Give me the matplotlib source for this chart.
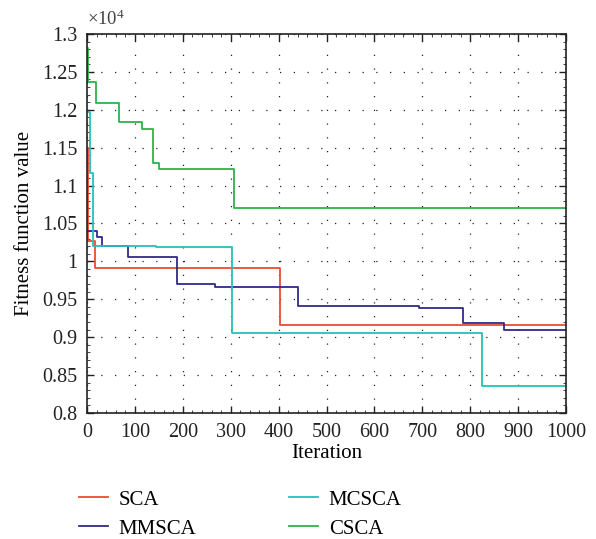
import matplotlib
matplotlib.use("Agg")
import matplotlib.pyplot as plt
from matplotlib.ticker import FuncFormatter, MultipleLocator

plt.rcParams['font.family'] = ['Liberation Serif', 'DejaVu Serif']
plt.rcParams['mathtext.fontset'] = 'custom'
plt.rcParams['mathtext.rm'] = 'Liberation Serif'
plt.rcParams['mathtext.it'] = 'Liberation Serif:italic'

# Data (iteration at which value changes, fitness value)
sca_iter = [0, 2, 16, 403, 1000]
sca_val = [11500, 10270, 9917, 9157, 9157]

mmsca_iter = [0, 21, 31, 86, 188, 267, 441, 694, 784, 870, 1000]
mmsca_val = [10405, 10320, 10203, 10062, 9698, 9667, 9412, 9385, 9184, 9095, 9095]

mcsca_iter = [0, 6, 13, 145, 303, 825, 1000]
mcsca_val = [11975, 11170, 10207, 10193, 9060, 8356, 8356]

csca_iter = [0, 2, 19, 66, 115, 138, 151, 307, 1000]
csca_val = [12815, 12370, 12086, 11835, 11747, 11302, 11215, 10700, 10700]

names = ['SCA', 'MMSCA', 'MCSCA', 'CSCA']
colors = ['#ee4b30', '#302a8a', '#22c2ba', '#2bb548']

fig = plt.figure(figsize=(5.96, 5.39), dpi=100)
ax = fig.add_axes([0.146, 0.234, 0.8037, 0.703])

series = [(sca_iter, sca_val), (mmsca_iter, mmsca_val),
          (mcsca_iter, mcsca_val), (csca_iter, csca_val)]
lines = []
for (xi, yi), nm, c in zip(series, names, colors):
    l, = ax.step(xi, yi, where='post', color=c, lw=1.3, label=nm)
    lines.append(l)

ax.set_xlim(0, 1000)
ax.set_ylim(8000, 13000)
ax.xaxis.set_major_locator(MultipleLocator(100))
ax.xaxis.set_minor_locator(MultipleLocator(20))
ax.yaxis.set_major_locator(MultipleLocator(500))
ax.yaxis.set_minor_locator(MultipleLocator(100))
ax.yaxis.set_major_formatter(FuncFormatter(lambda v, p: '%g' % round(v / 1e4, 4)))

ax.tick_params(which='both', direction='in', top=True, right=True, labelsize=14.5, colors='#222222')
ax.tick_params(which='major', length=5, width=1)
ax.tick_params(which='minor', length=2.5, width=0.6)
ax.tick_params(axis='x', which='major', pad=7)
ax.tick_params(axis='y', which='major', pad=7)
for s in ax.spines.values():
    s.set_linewidth(1.2)
    s.set_color('#222222')

ax.grid(True, which='major', color='#222222', linestyle=(0, (1, 10)), lw=0.9)

ax.set_xlabel('Iteration', fontsize=15, labelpad=2)
ax.set_ylabel('Fitness function value', fontsize=15, labelpad=6)
ax.text(0.0, 1.012, r'$\times10^{4}$', transform=ax.transAxes, fontsize=13.5,
        ha='left', va='bottom', color='#444444')

order = [lines[0], lines[1], lines[2], lines[3]]
fig.legend(order, [l.get_label() for l in order], ncol=2, loc='upper left',
           bbox_to_anchor=(0.118, 0.106), borderaxespad=0, frameon=False, fontsize=15,
           handlelength=1.4, columnspacing=4.43, handletextpad=0.52, labelspacing=0.45)

fig.savefig('out.png', dpi=100)
